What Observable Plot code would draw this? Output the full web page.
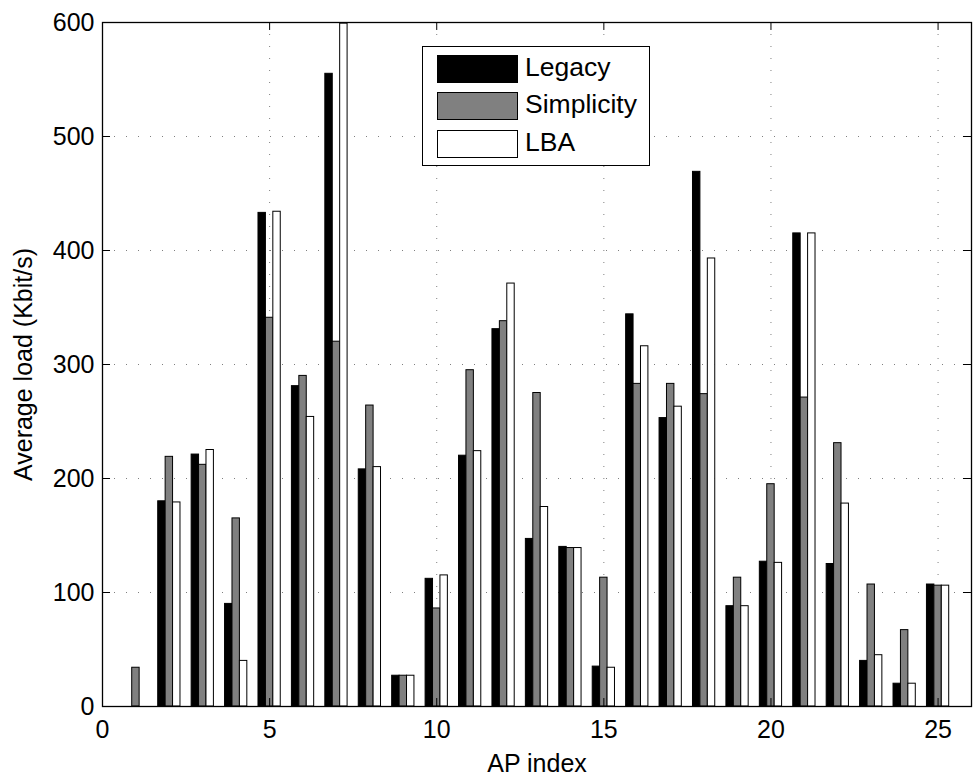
<!DOCTYPE html>
<html><head><meta charset="utf-8">
<script src="https://cdn.jsdelivr.net/npm/d3@7"></script>
<script src="https://cdn.jsdelivr.net/npm/@observablehq/plot@0.6"></script>
<style>
body{margin:0;background:#fff;}
#wrap{position:relative;width:974px;height:777px;font-family:"Liberation Sans",Arial,Helvetica,sans-serif;}
#legend{position:absolute;left:422px;top:46px;width:226px;height:118px;border:1.5px solid #000;background:#fff;}
.sw{position:absolute;left:14px;width:79px;height:26px;border:1px solid #000;}
.lab{position:absolute;left:102px;font-size:26.5px;line-height:27px;white-space:nowrap;color:#000;}
</style>
</head><body>
<div id="wrap"></div>
<script>
const apIndex = [1,2,3,4,5,6,7,8,9,10,11,12,13,14,15,16,17,18,19,20,21,22,23,24,25];
const legacy     = [0,180,221,90,433,281,555,208,27,112,220,331,147,140,35,344,253,469,88,127,415,125,40,20,107];
const simplicity = [34,219,212,165,341,290,320,264,27,86,295,338,275,139,113,283,283,274,113,195,271,231,107,67,106];
const lba        = [0,179,225,40,434,254,599,210,27,115,224,371,175,139,34,316,263,393,88,126,415,178,45,20,106];
const seriesNames = ["Legacy","Simplicity","LBA"];
const seriesColors = ["#000000","#808080","#ffffff"];
const xTicks = [0,5,10,15,20,25];
const yTicks = [0,100,200,300,400,500,600];

const seriesValues = [legacy, simplicity, lba];
const rows = [];
apIndex.forEach((ap,i)=>seriesValues.forEach((arr,k)=>rows.push({ap, k, series: seriesNames[k], value: arr[i]})));
const bw = 0.222;
const tickLenX = 0.24, tickLenY = 7;

const chart = Plot.plot({
  width: 974, height: 777,
  marginLeft: 102, marginRight: 3, marginTop: 22, marginBottom: 71,
  style: {fontFamily: "Liberation Sans, Arial, Helvetica, sans-serif", fontSize: "25px", background: "#fff", color: "#000", overflow: "visible"},
  x: {domain: [0,26], axis: null, label: null},
  y: {domain: [0,600], axis: null, label: null},
  color: {domain: seriesNames, range: seriesColors},
  marks: [
    Plot.gridX(xTicks.slice(1), {stroke: "#000", strokeOpacity: 0.5, strokeWidth: 1, strokeDasharray: "1,11"}),
    Plot.gridY(yTicks.slice(1,-1), {stroke: "#000", strokeOpacity: 0.5, strokeWidth: 1, strokeDasharray: "1,11"}),
    Plot.rectY(rows, {
      x1: d => d.ap + (d.k - 1.5) * bw,
      x2: d => d.ap + (d.k - 0.5) * bw,
      y1: 0, y2: "value", fill: "series", stroke: "#000", strokeWidth: 1
    }),
    Plot.ruleY(yTicks, {x1: 0, x2: tickLenX, stroke: "#000", strokeWidth: 1}),
    Plot.ruleY(yTicks, {x1: 26 - tickLenX, x2: 26, stroke: "#000", strokeWidth: 1}),
    Plot.ruleX(xTicks, {y1: 0, y2: tickLenY, stroke: "#000", strokeWidth: 1}),
    Plot.ruleX(xTicks, {y1: 600 - tickLenY, y2: 600, stroke: "#000", strokeWidth: 1}),
    Plot.frame({stroke: "#000", strokeWidth: 1.3}),
    Plot.axisY(yTicks, {anchor: "left", tickSize: 0, tickPadding: 8, fontSize: 25, label: null}),
    Plot.axisX(xTicks, {anchor: "bottom", tickSize: 0, tickPadding: 14, fontSize: 25, label: null}),
    Plot.text(["AP index"], {text: d => d, frameAnchor: "bottom", textAnchor: "middle", dy: 57, lineAnchor: "middle", fontSize: 25, fill: "#000"}),
    Plot.text(["Average load (Kbit/s)"], {text: d => d, frameAnchor: "left", textAnchor: "middle", dx: -79, rotate: -90, lineAnchor: "middle", fontSize: 25, fill: "#000"})
  ]
});
const wrap = document.getElementById("wrap");
wrap.appendChild(chart);

const legend = document.createElement("div");
legend.id = "legend";
const swTops = [8, 45, 83];
seriesNames.forEach((name, k) => {
  const sw = document.createElement("div");
  sw.className = "sw";
  sw.style.top = swTops[k] + "px";
  sw.style.background = seriesColors[k];
  legend.appendChild(sw);
  const lab = document.createElement("div");
  lab.className = "lab";
  lab.style.top = (swTops[k] - 1) + "px";
  lab.textContent = name;
  legend.appendChild(lab);
});
wrap.appendChild(legend);
</script>
</body></html>
